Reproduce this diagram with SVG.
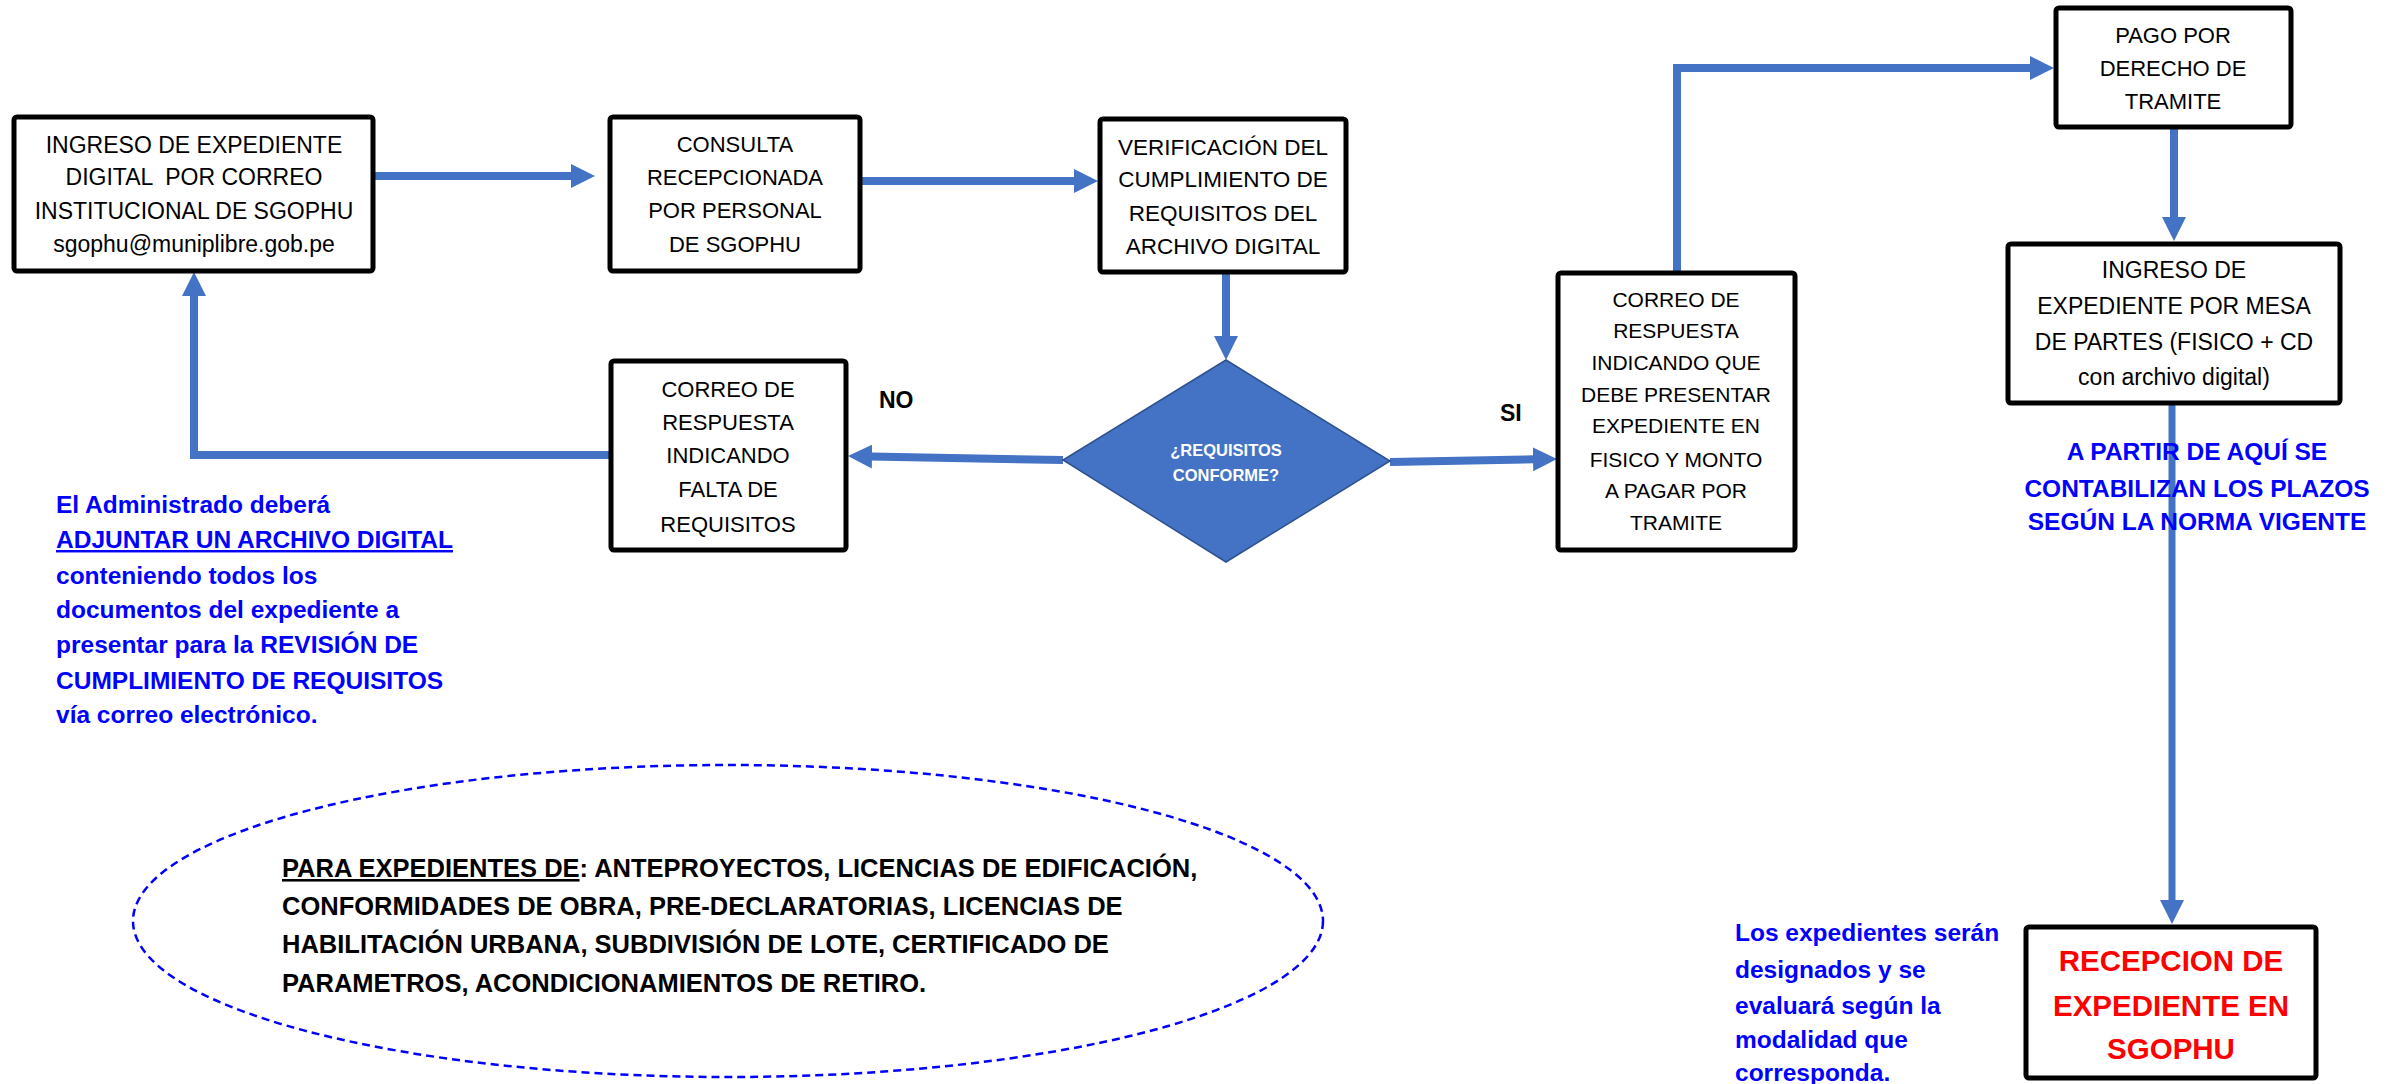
<svg xmlns="http://www.w3.org/2000/svg" width="2395" height="1084" viewBox="0 0 2395 1084">
<defs>
<marker id="ah" markerUnits="userSpaceOnUse" markerWidth="26" markerHeight="26" refX="2" refY="12" orient="auto"><path d="M0,0 L24,12 L0,24 Z" fill="#4472C4"/></marker>
<style>
.box{fill:#fff;stroke:#000;stroke-width:5}
.t{font-family:"Liberation Sans",Arial,sans-serif;font-size:22px;fill:#000;text-anchor:middle;white-space:pre}
.conn{fill:none;stroke:#4472C4;stroke-width:8;stroke-linejoin:miter;marker-end:url(#ah)}
.blue{font-family:"Liberation Sans",Arial,sans-serif;font-weight:bold;font-size:24.5px;fill:#0000FF}
.lbl{font-family:"Liberation Sans",Arial,sans-serif;font-weight:bold;font-size:23px;fill:#000}
.dia{fill:#4472C4;stroke:#2F528F;stroke-width:1.5}
.dt{font-family:"Liberation Sans",Arial,sans-serif;font-weight:bold;font-size:16.5px;fill:#fff;text-anchor:middle}
.red{font-family:"Liberation Sans",Arial,sans-serif;font-weight:bold;font-size:29.5px;fill:#FF0000;text-anchor:middle}
.el{font-family:"Liberation Sans",Arial,sans-serif;font-weight:bold;font-size:25.5px;fill:#000}
</style>
</defs>
<rect width="2395" height="1084" fill="#fff"/>

<g id="connectors">
<path class="conn" d="M375,176 H573"/>
<path class="conn" d="M862,181 H1076"/>
<path class="conn" d="M1226,274 V338"/>
<path class="conn" d="M1063,460 L870,456.5"/>
<path class="conn" d="M609,455 H194 V294"/>
<path class="conn" d="M1390,462 L1535,459.3"/>
<path class="conn" d="M1677,272 V68 H2032"/>
<path class="conn" d="M2174,129 V219"/>
<path class="conn" d="M2172,405 V902" style="stroke-width:7"/>
</g>

<g id="n1">
<rect class="box" x="14" y="117" width="359" height="154" rx="3"/>
<text class="t" style="font-size:23px" x="194" y="153">INGRESO DE EXPEDIENTE</text>
<text class="t" style="font-size:23px" x="194" y="185">DIGITAL  POR CORREO</text>
<text class="t" style="font-size:23px" x="194" y="219">INSTITUCIONAL DE SGOPHU</text>
<text class="t" style="font-size:23px" x="194" y="252">sgophu@muniplibre.gob.pe</text>
</g>

<g id="n2">
<rect class="box" x="610" y="117" width="250" height="154" rx="3"/>
<text class="t" x="735" y="152">CONSULTA</text>
<text class="t" x="735" y="185">RECEPCIONADA</text>
<text class="t" x="735" y="218">POR PERSONAL</text>
<text class="t" x="735" y="252">DE SGOPHU</text>
</g>

<g id="n3">
<rect class="box" x="1100" y="119" width="246" height="153" rx="3"/>
<text class="t" style="font-size:22.5px" x="1223" y="155">VERIFICACIÓN DEL</text>
<text class="t" style="font-size:22.5px" x="1223" y="187">CUMPLIMIENTO DE</text>
<text class="t" style="font-size:22.5px" x="1223" y="221">REQUISITOS DEL</text>
<text class="t" style="font-size:22.5px" x="1223" y="254">ARCHIVO DIGITAL</text>
</g>

<g id="decision">
<polygon class="dia" points="1226,360 1390,461 1226,562 1063,460"/>
<text class="dt" x="1226" y="456">¿REQUISITOS</text>
<text class="dt" x="1226" y="481">CONFORME?</text>
</g>

<g id="n-no">
<rect class="box" x="611" y="361" width="235" height="189" rx="3"/>
<text class="t" x="728" y="397">CORREO DE</text>
<text class="t" x="728" y="430">RESPUESTA</text>
<text class="t" x="728" y="463">INDICANDO</text>
<text class="t" x="728" y="497">FALTA DE</text>
<text class="t" x="728" y="532">REQUISITOS</text>
</g>

<g id="n-si">
<rect class="box" x="1558" y="273" width="237" height="277" rx="3"/>
<text class="t" style="font-size:21px" x="1676" y="307">CORREO DE</text>
<text class="t" style="font-size:21px" x="1676" y="338">RESPUESTA</text>
<text class="t" style="font-size:21px" x="1676" y="370">INDICANDO QUE</text>
<text class="t" style="font-size:21px" x="1676" y="402">DEBE PRESENTAR</text>
<text class="t" style="font-size:21px" x="1676" y="433">EXPEDIENTE EN</text>
<text class="t" style="font-size:21px" x="1676" y="467">FISICO Y MONTO</text>
<text class="t" style="font-size:21px" x="1676" y="498">A PAGAR POR</text>
<text class="t" style="font-size:21px" x="1676" y="530">TRAMITE</text>
</g>

<g id="n-pago">
<rect class="box" x="2056" y="8" width="235" height="119" rx="3"/>
<text class="t" x="2173" y="43">PAGO POR</text>
<text class="t" x="2173" y="76">DERECHO DE</text>
<text class="t" x="2173" y="109">TRAMITE</text>
</g>

<g id="n-ingreso">
<rect class="box" x="2008" y="244" width="332" height="159" rx="3"/>
<text class="t" style="font-size:23px" x="2174" y="278">INGRESO DE</text>
<text class="t" style="font-size:23px" x="2174" y="314">EXPEDIENTE POR MESA</text>
<text class="t" style="font-size:23px" x="2174" y="350">DE PARTES (FISICO + CD</text>
<text class="t" style="font-size:23px" x="2174" y="385">con archivo digital)</text>
</g>

<g id="n-recepcion">
<rect class="box" x="2026" y="927" width="290" height="151" rx="3"/>
<text class="red" x="2171" y="971">RECEPCION DE</text>
<text class="red" x="2171" y="1016">EXPEDIENTE EN</text>
<text class="red" x="2171" y="1059">SGOPHU</text>
</g>

<g id="labels">
<text class="lbl" x="879" y="408">NO</text>
<text class="lbl" x="1500" y="421">SI</text>
</g>

<g id="note-left">
<text class="blue" x="56" y="513">El Administrado deberá</text>
<text class="blue" x="56" y="548" text-decoration="underline">ADJUNTAR UN ARCHIVO DIGITAL</text>
<text class="blue" x="56" y="584">conteniendo todos los</text>
<text class="blue" x="56" y="618">documentos del expediente a</text>
<text class="blue" x="56" y="653">presentar para la REVISIÓN DE</text>
<text class="blue" x="56" y="689">CUMPLIMIENTO DE REQUISITOS</text>
<text class="blue" x="56" y="723">vía correo electrónico.</text>
</g>

<g id="note-plazos">
<text class="blue" x="2197" y="460" text-anchor="middle">A PARTIR DE AQUÍ SE</text>
<text class="blue" x="2197" y="497" text-anchor="middle">CONTABILIZAN LOS PLAZOS</text>
<text class="blue" x="2197" y="530" text-anchor="middle">SEGÚN LA NORMA VIGENTE</text>
</g>

<g id="note-bottom">
<text class="blue" x="1735" y="941">Los expedientes serán</text>
<text class="blue" x="1735" y="978">designados y se</text>
<text class="blue" x="1735" y="1014">evaluará según la</text>
<text class="blue" x="1735" y="1048">modalidad que</text>
<text class="blue" x="1735" y="1081">corresponda.</text>
</g>

<g id="note-ellipse">
<ellipse cx="728" cy="921" rx="595" ry="156" fill="none" stroke="#0000FF" stroke-width="2.5" stroke-dasharray="8 5"/>
<text class="el" x="282" y="877"><tspan text-decoration="underline">PARA EXPEDIENTES DE</tspan>: ANTEPROYECTOS, LICENCIAS DE EDIFICACIÓN,</text>
<text class="el" x="282" y="915">CONFORMIDADES DE OBRA, PRE-DECLARATORIAS, LICENCIAS DE</text>
<text class="el" x="282" y="953">HABILITACIÓN URBANA, SUBDIVISIÓN DE LOTE, CERTIFICADO DE</text>
<text class="el" x="282" y="992">PARAMETROS, ACONDICIONAMIENTOS DE RETIRO.</text>
</g>
</svg>
